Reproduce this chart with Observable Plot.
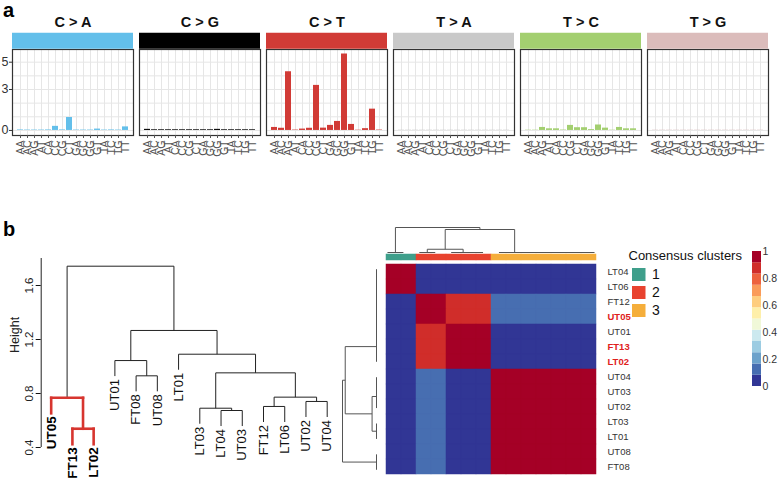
<!DOCTYPE html>
<html><head><meta charset="utf-8">
<script src="https://cdn.jsdelivr.net/npm/d3@7"></script>
<script src="https://cdn.jsdelivr.net/npm/@observablehq/plot@0.6"></script>
<style>
body{margin:0;background:#fff;font-family:"Liberation Sans",Arial,sans-serif;}
#root{position:relative;width:778px;height:480px;overflow:hidden;background:#fff;}
.lbl{position:absolute;font-weight:bold;font-size:20px;line-height:1;color:#000;}
</style></head><body><div id="root"><div class="lbl" style="left:3px;top:0px">a</div><div class="lbl" style="left:3px;top:219px">b</div></div>
<script>
// ---------- Panel a data ----------
const mutationTypes = ["C > A","C > G","C > T","T > A","T > C","T > G"];
const mutationColors = ["#63bfea","#000000","#d13b36","#c9c9c9","#a3cf70","#dbbcbb"];
const contexts = ["AA","AC","AG","AT","CA","CC","CG","CT","GA","GC","GG","GT","TA","TC","TG","TT"];
const valuesCA = [0.04,0.03,0.03,0.03,0.04,0.30,0.04,0.95,0.03,0.03,0.03,0.10,0.03,0.04,0.03,0.26];
const valuesCG = [0.08,0.05,0.05,0.05,0.05,0.05,0.05,0.05,0.05,0.05,0.08,0.05,0.05,0.05,0.05,0.05];
const valuesCT = [0.22,0.16,4.30,0.03,0.10,0.16,3.30,0.17,0.37,0.66,5.60,0.44,0.02,0.13,1.56,0.03];
const valuesTA = [0.02,0.02,0.02,0.02,0.02,0.02,0.02,0.02,0.02,0.02,0.02,0.02,0.02,0.02,0.02,0.02];
const valuesTC = [0.02,0.02,0.22,0.12,0.12,0.03,0.37,0.20,0.20,0.06,0.40,0.17,0.02,0.22,0.12,0.12];
const valuesTG = [0.02,0.02,0.02,0.02,0.02,0.02,0.02,0.02,0.02,0.02,0.02,0.02,0.02,0.02,0.02,0.02];
const yTicksA = [0,3,5];

// ---------- Panel b (left) hierarchical tree ----------
const treeLeaves = ["UT05","FT13","LT02","UT01","FT08","UT08","LT01","LT03","LT04","UT03","FT12","LT06","UT02","UT04"];
// R hclust style merges: negative = leaf (1-based index in treeLeaves), positive = earlier merge
const treeMerges = [
  [-2,-3,0.539],[-9,-10,0.674],[-8,2,0.691],[-11,-12,0.704],[-13,-14,0.741],
  [-1,1,0.768],[4,5,0.773],[-5,-6,0.931],[3,7,0.953],[-4,8,1.044],
  [-7,9,1.091],[10,11,1.267],[6,12,1.743]
];
const highlighted = ["UT05","FT13","LT02"];
const leafHang = 0.115;
const heightTicks = [0.4,0.8,1.2,1.6];

// ---------- Panel b (right) consensus matrix ----------
const samples = ["LT04","LT06","FT12","UT05","UT01","FT13","LT02","UT04","UT03","UT02","LT03","LT01","UT08","FT08"];
const clusterOf = [1,1,2,2,2,2,2,3,3,3,3,3,3,3];
const clusterIds = ["1","2","3"];
const clusterColors = ["#3f9f8b","#e8432f","#f5ae3b"];
const consensus = [
  [1,1,0,0,0,0,0,0,0,0,0,0,0,0],
  [1,1,0,0,0,0,0,0,0,0,0,0,0,0],
  [0,0,1,1,0.87,0.87,0.87,0.15,0.15,0.15,0.15,0.15,0.15,0.15],
  [0,0,1,1,0.87,0.87,0.87,0.15,0.15,0.15,0.15,0.15,0.15,0.15],
  [0,0,0.87,0.87,1,1,1,0,0,0,0,0,0,0],
  [0,0,0.87,0.87,1,1,1,0,0,0,0,0,0,0],
  [0,0,0.87,0.87,1,1,1,0,0,0,0,0,0,0],
  [0,0,0.15,0.15,0,0,0,1,1,1,1,1,1,1],
  [0,0,0.15,0.15,0,0,0,1,1,1,1,1,1,1],
  [0,0,0.15,0.15,0,0,0,1,1,1,1,1,1,1],
  [0,0,0.15,0.15,0,0,0,1,1,1,1,1,1,1],
  [0,0,0.15,0.15,0,0,0,1,1,1,1,1,1,1],
  [0,0,0.15,0.15,0,0,0,1,1,1,1,1,1,1],
  [0,0,0.15,0.15,0,0,0,1,1,1,1,1,1,1]
];
const consensusMerges = [
  [-1,-2,0],[-6,-7,0],[-5,2,0],[-3,-4,0],[-13,-14,0],[-12,5,0],[-11,6,0],
  [-10,7,0],[-9,8,0],[-8,9,0],[4,3,0.13],[11,10,0.92],[1,12,1.0]
];
const legendTicks = [0,0.2,0.4,0.6,0.8,1];
const redLabels = ["UT05","FT13","LT02"];

// ---------- helpers ----------
const root = document.getElementById("root");
const FONT = "'Liberation Sans', Arial, Helvetica, sans-serif";
const baseStyle = {background: "transparent", overflow: "visible", fontFamily: FONT, color: "#111"};
function place(el, left, top) {
  el.style.position = "absolute"; el.style.left = left + "px"; el.style.top = top + "px";
  root.appendChild(el);
}
function treeSegments(merges, leafPos, leafEnd) {
  const nodes = [], segs = [], tips = [];
  const info = (k, parentH) => {
    if (k < 0) {
      const i = -k - 1, h = leafEnd(parentH);
      tips.push({leaf: i, p: leafPos(i), h});
      return {p: leafPos(i), h, leaves: [i]};
    }
    return nodes[k - 1];
  };
  merges.forEach(([a, b, h], m) => {
    const A = info(a, h), B = info(b, h);
    nodes[m] = {p: (A.p + B.p) / 2, h, leaves: A.leaves.concat(B.leaves)};
    segs.push({p1: A.p, h1: h, p2: B.p, h2: h, node: m});
    segs.push({p1: A.p, h1: h, p2: A.p, h2: A.h, node: m});
    segs.push({p1: B.p, h1: h, p2: B.p, h2: B.h, node: m});
  });
  return {nodes, segs, tips};
}

// ---------- Panel a ----------
const signature = [valuesCA, valuesCG, valuesCT, valuesTA, valuesTC, valuesTG];
const bars = mutationTypes.flatMap((t, i) => contexts.map((c, j) => ({type: t, context: c, value: signature[i][j]})));
const chartA = Plot.plot({
  width: 778, height: 165, marginTop: 49, marginBottom: 30, marginLeft: 12, marginRight: 9,
  style: baseStyle,
  fx: {domain: mutationTypes, paddingInner: 0.047, paddingOuter: 0, axis: null, label: null},
  x: {domain: contexts, padding: 0.1, label: null},
  y: {domain: [-0.37, 5.93], label: null},
  color: {domain: mutationTypes, range: mutationColors},
  marks: [
    Plot.gridY([0,1,2,3,4,5], {stroke: "#e6e6e6", strokeOpacity: 1}),
    Plot.gridX({stroke: "#e6e6e6", strokeOpacity: 1}),
    Plot.barY(bars, {fx: "type", x: "context", y: "value", fill: "type"}),
    Plot.frame({stroke: "#333", strokeWidth: 1.2}),
    Plot.ruleY(mutationTypes, {fx: d => d, y: 6.58, stroke: d => d, strokeWidth: 16}),
    Plot.text(mutationTypes, {fx: d => d, frameAnchor: "top", dy: -33, text: d => d, fontSize: 14.5, fontWeight: "bold", fill: "#111"}),
    Plot.axisY(yTicksA, {tickSize: 3, tickPadding: 1, fontSize: 12.5, fill: "#333", stroke: "#333"}),
    Plot.axisX({tickRotate: -90, tickSize: 3, tickPadding: 2, fontSize: 10.5, fill: "#555", stroke: "#555"})
  ]
});
place(chartA, 0, 0);

// ---------- Panel b left: dendrogram ----------
const T = treeSegments(treeMerges, i => i, ph => ph - leafHang);
const isRed = s => T.nodes[s.node].leaves.every(i => highlighted.includes(treeLeaves[i]));
const tipRed = t => highlighted.includes(treeLeaves[t.leaf]);
const chartB1 = Plot.plot({
  width: 340, height: 300, marginLeft: 40.7, marginRight: 13.3, marginTop: 78, marginBottom: 33,
  style: baseStyle,
  x: {domain: [-0.47, 13], axis: null},
  y: {domain: [0.4, 1.8], label: null},
  marks: [
    Plot.ruleX([-0.47], {y1: 0.4, y2: 1.8, stroke: "#222"}),
    Plot.axisY(heightTicks, {tickRotate: -90, tickSize: 5, tickPadding: 3, fontSize: 11.5, fill: "#222", tickFormat: d => d.toFixed(1)}),
    Plot.text(["Height"], {frameAnchor: "left", dx: -26, rotate: -90, fontSize: 12.5, fill: "#222"}),
    Plot.link(T.segs.filter(s => !isRed(s)), {x1: "p1", y1: "h1", x2: "p2", y2: "h2", stroke: "#222", strokeWidth: 1}),
    Plot.link(T.segs.filter(isRed), {x1: "p1", y1: "h1", x2: "p2", y2: "h2", stroke: "#d7352f", strokeWidth: 2.6, strokeLinecap: "square"}),
    Plot.text(T.tips.filter(t => !tipRed(t)), {x: "p", y: "h", text: d => treeLeaves[d.leaf], rotate: -90, textAnchor: "end", dy: 3, fontSize: 13, fill: "#111"}),
    Plot.text(T.tips.filter(tipRed), {x: "p", y: "h", text: d => treeLeaves[d.leaf], rotate: -90, textAnchor: "end", dy: 3, fontSize: 13.5, fontWeight: "bold", fill: "#000"})
  ]
});
place(chartB1, 0, 180);

// ---------- Panel b right: consensus heatmap ----------
const palette = d3.quantize(t => d3.interpolateRdYlBu(1 - t), 12);
const thresholds = d3.range(1, 12).map(i => i / 12);
const colorScale = {type: "threshold", domain: thresholds, range: palette};
const C = treeSegments(consensusMerges, i => i + 0.5, () => 0);

const rowDendro = Plot.plot({
  width: 39, height: 300, marginLeft: 2, marginRight: 3, marginTop: 81, marginBottom: 3,
  style: baseStyle,
  x: {domain: [1, 0], axis: null}, y: {domain: [0, 14], axis: null},
  marks: [Plot.link(C.segs, {x1: "h1", y1: "p1", x2: "h2", y2: "p2", stroke: "#555", strokeWidth: 1})]
});
place(rowDendro, 340, 180);

const colDendro = Plot.plot({
  width: 438, height: 75, marginLeft: 39, marginRight: 176, marginTop: 47, marginBottom: 3,
  style: baseStyle,
  x: {domain: [0, 14], axis: null}, y: {domain: [0, 1], axis: null},
  marks: [Plot.link(C.segs, {x1: "p1", y1: "h1", x2: "p2", y2: "h2", stroke: "#555", strokeWidth: 1})]
});
place(colDendro, 340, 180);

const annot = Plot.plot({
  width: 438, height: 6, marginTop: 0, marginBottom: 0, marginLeft: 39, marginRight: 176,
  style: baseStyle,
  x: {domain: samples, padding: 0, axis: null},
  color: {domain: clusterIds, range: clusterColors},
  marks: [Plot.cell(samples, {x: d => d, fill: (d, i) => String(clusterOf[i]), stroke: (d, i) => String(clusterOf[i]), strokeWidth: 0.5})]
});
place(annot, 340, 254);

const cells = samples.flatMap((r, i) => samples.map((c, j) => ({row: r, col: c, value: consensus[i][j]})));
const heat = Plot.plot({
  width: 438, height: 300, marginLeft: 39, marginRight: 176, marginTop: 81, marginBottom: 3,
  style: baseStyle,
  x: {domain: samples, padding: 0, axis: null},
  y: {domain: samples, padding: 0, axis: null},
  color: colorScale,
  marks: [
    Plot.cell(cells, {x: "col", y: "row", fill: "value", stroke: "value", strokeWidth: 0.5}),
    Plot.text(samples.filter(s => !redLabels.includes(s)), {y: d => d, text: d => d, frameAnchor: "right", dx: 5, textAnchor: "start", fontSize: 9.5, fill: "#333"}),
    Plot.text(redLabels, {y: d => d, text: d => d, frameAnchor: "right", dx: 5, textAnchor: "start", fontSize: 9.5, fontWeight: "bold", fill: "#e0201c"})
  ]
});
place(heat, 340, 180);

// cluster legend
const clusterLegend = Plot.plot({
  width: 125, height: 80, marginLeft: 8, marginTop: 5, marginRight: 0, marginBottom: 0,
  style: baseStyle,
  x: {domain: [0, 1], range: [12, 25.5], axis: null},
  y: {domain: clusterIds, range: [20.5, 75.5], paddingInner: 0.26, paddingOuter: 0.13, axis: null},
  color: {domain: clusterIds, range: clusterColors},
  marks: [
    Plot.text(["Consensus clusters"], {frameAnchor: "top-left", text: d => d, textAnchor: "start", fontSize: 13, fill: "#111"}),
    Plot.barX(clusterIds, {x1: 0, x2: 1, y: d => d, fill: d => d}),
    Plot.text(clusterIds, {x: 1, y: d => d, dx: 6, text: d => d, textAnchor: "start", fontSize: 14, fill: "#111"})
  ]
});
place(clusterLegend, 620, 245);

// colour bar
const bins = d3.range(12).map(i => ({y1: i / 12, y2: (i + 1) / 12, mid: (i + 0.5) / 12}));
const colorBar = Plot.plot({
  width: 38, height: 160, marginLeft: 12, marginRight: 17, marginTop: 11, marginBottom: 14,
  style: baseStyle,
  x: {domain: [0, 1], axis: null},
  y: {domain: [0, 1], label: null},
  color: colorScale,
  marks: [
    Plot.rect(bins, {x1: 0, x2: 1, y1: "y1", y2: "y2", fill: "mid"}),
    Plot.axisY(legendTicks, {anchor: "right", tickSize: 0, tickPadding: 1, fontSize: 10.5, fill: "#333", tickFormat: d => String(d)})
  ]
});
place(colorBar, 740, 240);
</script></body></html>
